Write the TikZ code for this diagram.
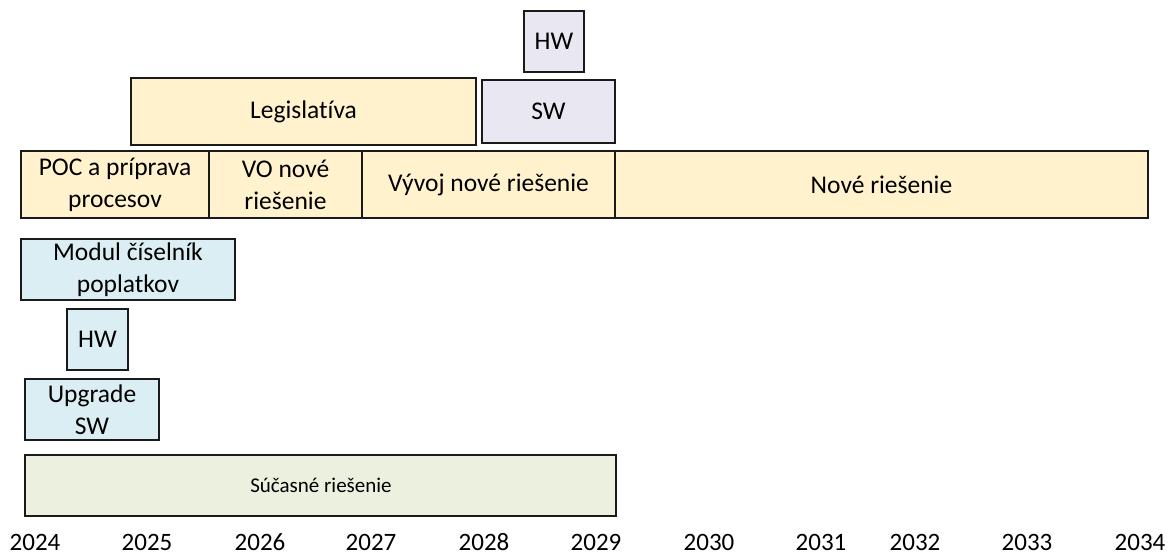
\documentclass[tikz,border=0pt]{standalone}
\usepackage{fontspec}
\setmainfont{Carlito}[Ligatures=NoCommon]
\definecolor{yel}{HTML}{FFF2CC}
\definecolor{lav}{HTML}{E9E7F1}
\definecolor{blu}{HTML}{DBEEF3}
\definecolor{grn}{HTML}{EBF1DE}
\definecolor{edge}{HTML}{1A1A1A}
\tikzset{
  bx/.style={draw=edge, line width=1.3pt},
  bxtext/.style={inner sep=0pt, align=center, font=\fontsize{25.5}{32}\selectfont},
  yr/.style={font=\fontsize{25}{28}\selectfont, inner sep=0pt, anchor=base},
}
\newcommand{\bxat}[7]{% name, x1,y1,x2,y2, fill, text
  \path[bx, fill=#6] (#2,#3) rectangle (#4,#5);
  \node[bxtext] (#1) at ({(#2+#4)/2},{(#3+#5)/2}) {#7};
}
\begin{document}
\begin{tikzpicture}[x=1pt,y=-1pt]
\useasboundingbox (0,0) rectangle (1168,554);
% top
\bxat{hwtop}{524}{11}{584}{72}{lav}{HW}
\bxat{leg}{131}{78}{476}{145}{yel}{Legislatíva}
\bxat{swtop}{482}{80}{615}{143}{lav}{SW}
% row
\bxat{poc}{21}{151}{209}{218}{yel}{POC a príprava\\procesov}
\bxat{vo}{209}{151}{362}{218}{yel}{VO nové\\riešenie}
\bxat{vyv}{362}{151}{615}{218}{yel}{Vývoj nové riešenie}
\bxat{nove}{615}{151}{1148}{218}{yel}{Nové riešenie}
% lower
\bxat{modul}{21}{239}{235}{300}{blu}{Modul číselník\\poplatkov}
\bxat{hwlow}{67}{309}{128}{370}{blu}{HW}
\bxat{upg}{25}{379}{159}{440}{blu}{Upgrade\\SW}
\path[bx, fill=grn] (25,455) rectangle (616,516);
\node[inner sep=0pt, font=\fontsize{21}{24}\selectfont] (sucas) at (321,485.5) {Súčasné riešenie};
% years
\foreach \x/\y [count=\i] in {35/2024,147/2025,260/2026,371/2027,484/2028,596/2029,709/2030,821/2031,915/2032,1027/2033,1140/2034}
  \node[yr] (y\i) at (\x,550) {\y};
\end{tikzpicture}
\end{document}
